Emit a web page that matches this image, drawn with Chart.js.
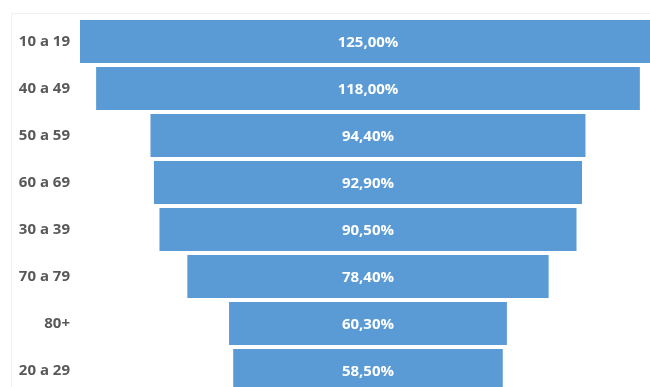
<!DOCTYPE html>
<html>
<head>
<meta charset="utf-8">
<script src="https://cdn.jsdelivr.net/npm/chart.js@4.4.1/dist/chart.umd.min.js"></script>
<style>
  html, body { margin: 0; padding: 0; background: #fff; overflow: hidden; }
  #wrap { position: relative; width: 650px; height: 403px; }
  #frame { position: absolute; left: 11px; top: 13px; width: 700px; height: 420px;
           border: 1px solid #f0f0f0; box-sizing: border-box; }
  canvas { position: absolute; left: 0; top: 0; }
</style>
</head>
<body>
<div id="wrap">
  <div id="frame"></div>
  <canvas id="chart" width="650" height="403"></canvas>
</div>
<script>
// faixas etarias e valores (%)
var faixas = ['10 a 19', '40 a 49', '50 a 59', '60 a 69', '30 a 39', '70 a 79', '80+', '20 a 29'];
var valores = [125.0, 118.0, 94.4, 92.9, 90.5, 78.4, 60.3, 58.5];

// barras flutuantes centradas em zero -> funil
var barras = valores.map(function(v) {
  return [-v / 2, v / 2];
});

function fmt(v) {
  return v.toFixed(2).replace('.', ',') + '%';
}

var rotulos = {
  id: 'rotulos',
  afterDatasetsDraw: function(chart) {
    var ctx = chart.ctx;
    var meta = chart.getDatasetMeta(0);
    ctx.save();
    ctx.fillStyle = '#ffffff';
    ctx.font = 'bold 15px "Open Sans"';
    ctx.textAlign = 'center';
    ctx.textBaseline = 'middle';
    meta.data.forEach(function(bar, i) {
      var cx = chart.scales.x.getPixelForValue(0);
      ctx.fillText(fmt(valores[i]), cx, bar.y + 1);
    });
    ctx.restore();
  }
};

var ctx = document.getElementById('chart').getContext('2d');
var chart = new Chart(ctx, {
  type: 'bar',
  data: {
    labels: faixas,
    datasets: [{
      data: barras,
      backgroundColor: '#5b9bd5',
      borderWidth: 0,
      barPercentage: 0.915,
      categoryPercentage: 1.0
    }]
  },
  options: {
    indexAxis: 'y',
    responsive: false,
    animation: false,
    layout: { padding: { top: 18, left: 0, right: 0, bottom: 0 } },
    plugins: {
      legend: { display: false },
      tooltip: { enabled: false }
    },
    scales: {
      x: {
        display: false,
        min: -62.93,
        max: 61.2
      },
      y: {
        grid: { display: false, drawBorder: false },
        border: { display: false },
        ticks: {
          color: '#595959',
          font: { family: 'Open Sans', size: 15, weight: 'bold' },
          padding: 0
        },
        afterFit: function(scale) {
          scale.width = 78;
        }
      }
    }
  },
  plugins: [rotulos]
});
</script>
</body>
</html>
